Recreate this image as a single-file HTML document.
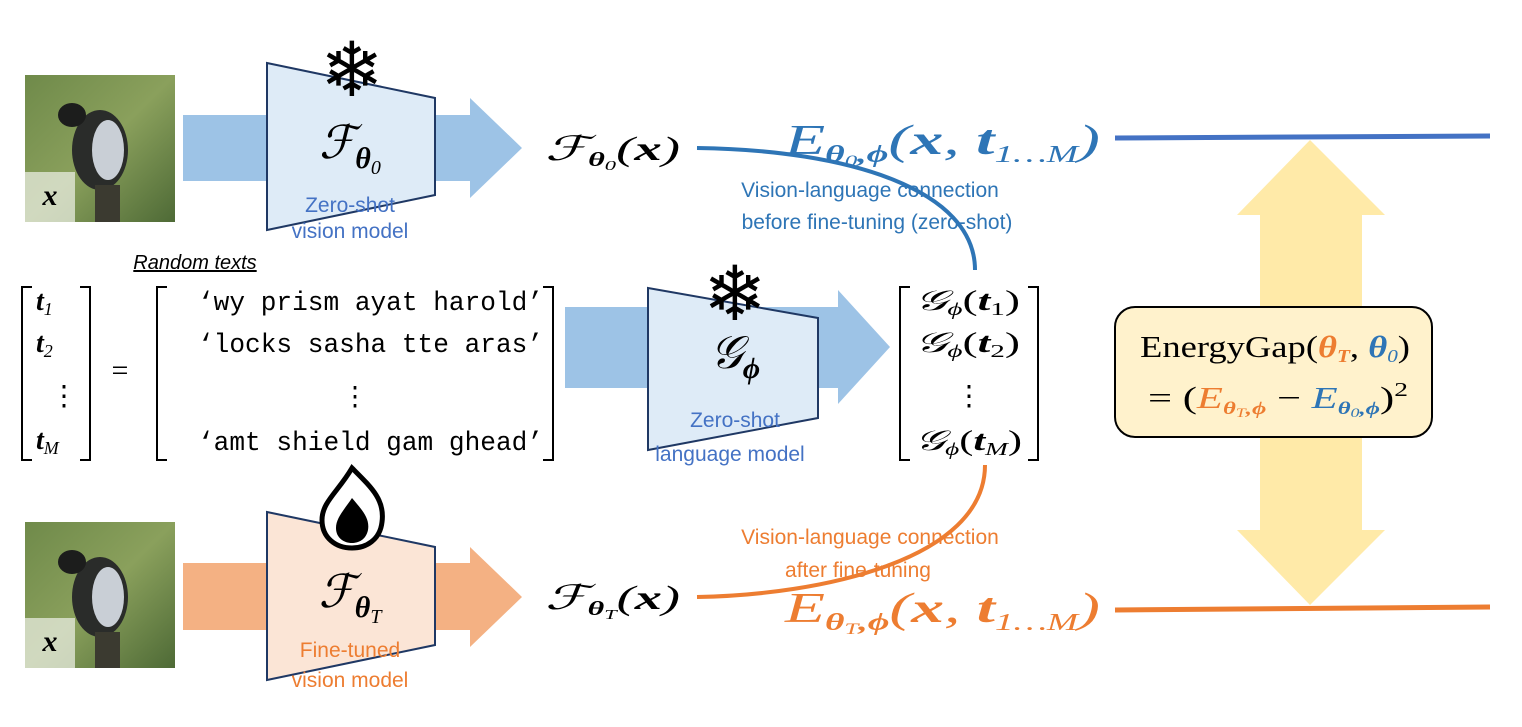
<!DOCTYPE html>
<html><head><meta charset="utf-8">
<style>
html,body{margin:0;padding:0;background:#fff;}
svg{display:block;}
.serif{font-family:"Liberation Serif","DejaVu Serif",serif;}
.sans{font-family:"Liberation Sans","DejaVu Sans",sans-serif;}
.mono{font-family:"Liberation Mono","DejaVu Sans Mono",monospace;}
</style></head>
<body>
<svg width="1522" height="727" viewBox="0 0 1522 727" xmlns="http://www.w3.org/2000/svg">
<defs>
<linearGradient id="bg" x1="0" y1="0" x2="1" y2="1">
<stop offset="0" stop-color="#6f8a4a"/><stop offset="0.5" stop-color="#8aa05c"/><stop offset="1" stop-color="#4e6a36"/>
</linearGradient>
</defs>

<g>
<rect x="25" y="75" width="150" height="147" fill="url(#bg)"/>
<ellipse cx="100" cy="150" rx="28" ry="40" fill="#2a2c2a"/>
<ellipse cx="108" cy="150" rx="16" ry="30" fill="#c9cfd6"/>
<ellipse cx="72" cy="115" rx="14" ry="12" fill="#1c1d1c"/>
<rect x="95" y="185" width="25" height="37" fill="#3b3a30"/>
<rect x="25" y="172" width="50" height="50" fill="#e8ece0" opacity="0.75"/>
<text x="50" y="205" text-anchor="middle" class="serif" font-size="30" font-style="italic" font-weight="bold">x</text>
</g>
<g>
<rect x="25" y="522" width="150" height="146" fill="url(#bg)"/>
<ellipse cx="100" cy="597" rx="28" ry="40" fill="#2a2c2a"/>
<ellipse cx="108" cy="597" rx="16" ry="30" fill="#c9cfd6"/>
<ellipse cx="72" cy="562" rx="14" ry="12" fill="#1c1d1c"/>
<rect x="95" y="632" width="25" height="36" fill="#3b3a30"/>
<rect x="25" y="618" width="50" height="50" fill="#e8ece0" opacity="0.75"/>
<text x="50" y="651" text-anchor="middle" class="serif" font-size="30" font-style="italic" font-weight="bold">x</text>
</g>

<polygon points="183,115 470,115 470,98 522,148 470,198 470,181 183,181" fill="#9dc3e6"/>
<polygon points="565,307 838,307 838,290 890,347 838,404 838,388 565,388" fill="#9dc3e6"/>
<polygon points="183,563 470,563 470,547 522,597 470,647 470,630 183,630" fill="#f4b183"/>

<polygon points="1310,140 1385,215 1362,215 1362,530 1385,530 1310,605 1237,530 1260,530 1260,215 1237,215" fill="#ffe699" opacity="0.85"/>

<polygon points="267,63 435,98 435,195 267,230" fill="#deebf7" stroke="#1f3864" stroke-width="2"/>
<polygon points="648,288 818,318 818,418 648,450" fill="#deebf7" stroke="#1f3864" stroke-width="2"/>
<polygon points="267,512 435,547 435,645 267,680" fill="#fbe5d6" stroke="#1f3864" stroke-width="2"/>

<text x="352" y="96" text-anchor="middle" font-family="DejaVu Sans,sans-serif" font-size="76" font-weight="bold">❄</text>
<text x="735" y="320" text-anchor="middle" font-family="DejaVu Sans,sans-serif" font-size="76" font-weight="bold">❄</text>
<g>
<path d="M352,468 C372,488 385,500 382,522 C380,540 366,548 352,548 C336,548 322,538 322,520 C322,502 338,492 352,468 Z" fill="#fff" stroke="#000" stroke-width="5"/>
<path d="M352,498 C362,510 370,518 368,530 C366,540 358,543 352,543 C344,543 336,538 336,528 C336,518 344,510 352,498 Z" fill="#000"/>
</g>

<text x="350" y="158" text-anchor="middle" class="serif" font-size="46" font-style="italic">ℱ<tspan font-size="30" font-weight="bold" dy="10">θ</tspan><tspan font-size="20" dy="6">0</tspan></text>
<text x="350" y="212" text-anchor="middle" class="sans" font-size="21" fill="#4472c4">Zero-shot</text>
<text x="350" y="238" text-anchor="middle" class="sans" font-size="21" fill="#4472c4">vision model</text>

<text x="735" y="368" text-anchor="middle" class="serif" font-size="46" font-style="italic">𝒢<tspan font-size="30" font-weight="bold" dy="10">ϕ</tspan></text>
<text x="735" y="427" text-anchor="middle" class="sans" font-size="21" fill="#4472c4">Zero-shot</text>
<text x="730" y="461" text-anchor="middle" class="sans" font-size="21" fill="#4472c4">language model</text>

<text x="350" y="607" text-anchor="middle" class="serif" font-size="46" font-style="italic">ℱ<tspan font-size="30" font-weight="bold" dy="10">θ</tspan><tspan font-size="20" dy="6">T</tspan></text>
<text x="350" y="657" text-anchor="middle" class="sans" font-size="21" fill="#ed7d31">Fine-tuned</text>
<text x="350" y="687" text-anchor="middle" class="sans" font-size="21" fill="#ed7d31">vision model</text>

<text x="545" y="160" textLength="135" lengthAdjust="spacingAndGlyphs" class="serif" font-size="34" font-style="italic">ℱ<tspan font-size="20" font-weight="bold" dy="6">θ</tspan><tspan font-size="14" dy="4">0</tspan><tspan dy="-10">(</tspan><tspan font-weight="bold">x</tspan>)</text>
<text x="545" y="609" textLength="135" lengthAdjust="spacingAndGlyphs" class="serif" font-size="34" font-style="italic">ℱ<tspan font-size="20" font-weight="bold" dy="6">θ</tspan><tspan font-size="14" dy="4">T</tspan><tspan dy="-10">(</tspan><tspan font-weight="bold">x</tspan>)</text>

<path d="M697,148 C850,150 975,190 975,270" fill="none" stroke="#2e75b6" stroke-width="4"/>
<path d="M697,597 C820,595 985,560 985,465" fill="none" stroke="#ed7d31" stroke-width="4"/>

<text x="870" y="197" text-anchor="middle" class="sans" font-size="21" fill="#2e75b6">Vision-language connection</text>
<text x="877" y="229" text-anchor="middle" class="sans" font-size="21" fill="#2e75b6">before fine-tuning (zero-shot)</text>
<text x="870" y="544" text-anchor="middle" class="sans" font-size="21" fill="#ed7d31">Vision-language connection</text>
<text x="858" y="577" text-anchor="middle" class="sans" font-size="21" fill="#ed7d31">after fine-tuning</text>

<text x="785" y="154" textLength="315" lengthAdjust="spacingAndGlyphs" class="serif" font-size="42" font-style="italic" fill="#2e75b6">E<tspan font-size="24" font-weight="bold" dy="8">θ</tspan><tspan font-size="16" dy="4">0</tspan><tspan font-size="24" font-weight="bold" dy="-4">,ϕ</tspan><tspan dy="-8">(</tspan><tspan font-weight="bold">x</tspan>, <tspan font-weight="bold">t</tspan><tspan font-size="24" dy="8">1…M</tspan><tspan dy="-8">)</tspan></text>
<text x="785" y="622" textLength="315" lengthAdjust="spacingAndGlyphs" class="serif" font-size="42" font-style="italic" fill="#ed7d31">E<tspan font-size="24" font-weight="bold" dy="8">θ</tspan><tspan font-size="16" dy="4">T</tspan><tspan font-size="24" font-weight="bold" dy="-4">,ϕ</tspan><tspan dy="-8">(</tspan><tspan font-weight="bold">x</tspan>, <tspan font-weight="bold">t</tspan><tspan font-size="24" dy="8">1…M</tspan><tspan dy="-8">)</tspan></text>
<line x1="1115" y1="138" x2="1490" y2="136" stroke="#4472c4" stroke-width="5"/>
<line x1="1115" y1="610" x2="1490" y2="607" stroke="#ed7d31" stroke-width="5"/>

<text x="195" y="269" text-anchor="middle" class="sans" font-size="20" font-style="italic" text-decoration="underline">Random texts</text>
<g fill="none" stroke="#000" stroke-width="2">
<path d="M32,287 H22 V460 H32"/><path d="M80,287 H90 V460 H80"/>
<path d="M167,287 H157 V460 H167"/><path d="M543,287 H553 V460 H543"/>
<path d="M910,287 H900 V460 H910"/><path d="M1028,287 H1038 V460 H1028"/>
</g>
<g class="serif" font-size="28" font-style="italic" font-weight="bold">
<text x="36" y="310">t<tspan font-size="18" font-weight="normal" dy="5">1</tspan></text>
<text x="36" y="352">t<tspan font-size="18" font-weight="normal" dy="5">2</tspan></text>
<text x="50" y="405" font-weight="normal" font-style="normal">⋮</text>
<text x="36" y="449">t<tspan font-size="18" font-weight="normal" font-style="italic" dy="5">M</tspan></text>
</g>
<text x="120" y="380" text-anchor="middle" class="serif" font-size="30">=</text>
<g class="mono" font-size="26.5">
<text x="198" y="310" textLength="345" lengthAdjust="spacingAndGlyphs">‘wy prism ayat harold’</text>
<text x="198" y="352" textLength="345" lengthAdjust="spacingAndGlyphs">‘locks sasha tte aras’</text>
<text x="355" y="405" text-anchor="middle" class="serif">⋮</text>
<text x="198" y="450" textLength="345" lengthAdjust="spacingAndGlyphs">‘amt shield gam ghead’</text>
</g>
<g class="serif" font-size="28" font-style="italic">
<text x="915" y="310" textLength="105" lengthAdjust="spacingAndGlyphs">𝒢<tspan font-size="18" dy="5">ϕ</tspan><tspan dy="-5" font-style="normal">(</tspan><tspan font-weight="bold">t</tspan><tspan font-size="18" dy="5" font-style="normal">1</tspan><tspan dy="-5" font-style="normal">)</tspan></text>
<text x="915" y="352" textLength="105" lengthAdjust="spacingAndGlyphs">𝒢<tspan font-size="18" dy="5">ϕ</tspan><tspan dy="-5" font-style="normal">(</tspan><tspan font-weight="bold">t</tspan><tspan font-size="18" dy="5" font-style="normal">2</tspan><tspan dy="-5" font-style="normal">)</tspan></text>
<text x="969" y="405" text-anchor="middle" font-style="normal">⋮</text>
<text x="915" y="450" textLength="107" lengthAdjust="spacingAndGlyphs">𝒢<tspan font-size="18" dy="5">ϕ</tspan><tspan dy="-5" font-style="normal">(</tspan><tspan font-weight="bold">t</tspan><tspan font-size="18" dy="5">M</tspan><tspan dy="-5" font-style="normal">)</tspan></text>
</g>

<rect x="1115" y="307" width="317" height="130" rx="20" fill="#fff2cc" stroke="#000" stroke-width="2"/>
<text x="1140" y="357" textLength="270" lengthAdjust="spacingAndGlyphs" class="serif" font-size="31">EnergyGap(<tspan fill="#ed7d31" font-weight="bold" font-style="italic">θ<tspan font-size="18" dy="5">T</tspan></tspan><tspan dy="-5">, </tspan><tspan fill="#2e75b6" font-weight="bold" font-style="italic">θ<tspan font-size="18" font-weight="normal" dy="5">0</tspan></tspan><tspan dy="-5">)</tspan></text>
<text x="1148" y="408" textLength="260" lengthAdjust="spacingAndGlyphs" class="serif" font-size="31">= (<tspan fill="#ed7d31" font-style="italic">E<tspan font-size="18" font-weight="bold" dy="6">θ</tspan><tspan font-size="13" dy="3">T</tspan><tspan font-size="18" font-weight="bold" dy="-3">,ϕ</tspan></tspan><tspan dy="-6"> − </tspan><tspan fill="#2e75b6" font-style="italic">E<tspan font-size="18" font-weight="bold" dy="6">θ</tspan><tspan font-size="13" dy="3">0</tspan><tspan font-size="18" font-weight="bold" dy="-3">,ϕ</tspan></tspan><tspan dy="-6">)</tspan><tspan font-size="20" dy="-12">2</tspan></text>
</svg>
</body></html>
